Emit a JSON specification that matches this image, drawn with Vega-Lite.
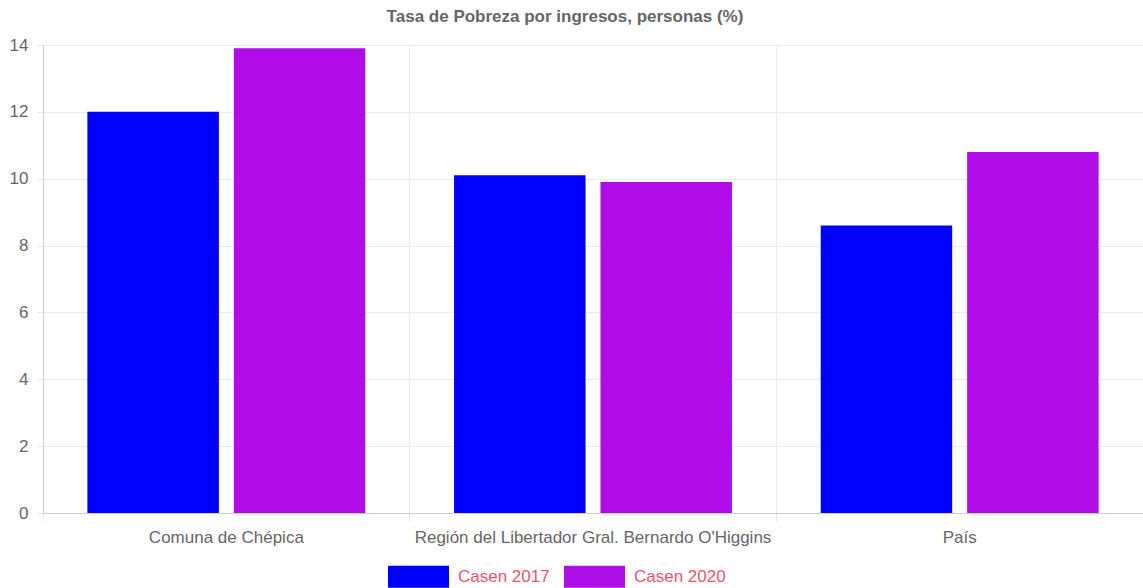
{
  "$schema": "https://vega.github.io/schema/vega-lite/v6.json",
  "autosize": "none",
  "width": 1100,
  "height": 468,
  "padding": {"left": 43, "top": 45, "right": 0, "bottom": 75},
  "background": "white",
  "config": {
    "font": "Liberation Sans",
    "view": {"stroke": null}
  },
  "title": {
    "text": "Tasa de Pobreza por ingresos, personas (%)",
    "anchor": "middle",
    "dx": -28,
    "offset": 10,
    "fontSize": 17,
    "fontWeight": "bold",
    "color": "#666666",
    "font": "Liberation Sans"
  },
  "data": {
    "values": [
      {"territorio": "Comuna de Chépica", "serie": "Casen 2017", "valor": 12.0},
      {"territorio": "Comuna de Chépica", "serie": "Casen 2020", "valor": 13.9},
      {"territorio": "Región del Libertador Gral. Bernardo O'Higgins", "serie": "Casen 2017", "valor": 10.1},
      {"territorio": "Región del Libertador Gral. Bernardo O'Higgins", "serie": "Casen 2020", "valor": 9.9},
      {"territorio": "País", "serie": "Casen 2017", "valor": 8.6},
      {"territorio": "País", "serie": "Casen 2020", "valor": 10.8}
    ]
  },
  "mark": {"type": "bar"},
  "encoding": {
    "x": {
      "field": "territorio",
      "type": "nominal",
      "sort": null,
      "scale": {"paddingInner": 0, "paddingOuter": 0},
      "axis": {
        "title": null,
        "labelAngle": 0,
        "bandPosition": 0,
        "labelLimit": 0,
        "labelColor": "#666666",
        "labelFontSize": 17,
        "labelPadding": 8,
        "tickSize": 8,
        "tickColor": "#e6e6e6",
        "grid": true,
        "gridColor": "#ebebeb",
        "domainColor": "#cccccc"
      }
    },
    "xOffset": {
      "field": "serie",
      "type": "nominal",
      "scale": {"paddingInner": 0.102, "paddingOuter": 0.303}
    },
    "y": {
      "field": "valor",
      "type": "quantitative",
      "scale": {"domain": [0, 14], "nice": false},
      "axis": {
        "title": null,
        "values": [0, 2, 4, 6, 8, 10, 12, 14],
        "labelColor": "#666666",
        "labelFontSize": 17,
        "labelPadding": 9,
        "tickSize": 6,
        "tickColor": "#e6e6e6",
        "gridColor": "#ebebeb",
        "domainColor": "#cccccc"
      }
    },
    "color": {
      "field": "serie",
      "type": "nominal",
      "scale": {"domain": ["Casen 2017", "Casen 2020"], "range": ["#0000ff", "#b00ce8"]},
      "legend": {
        "title": null,
        "orient": "none",
        "direction": "horizontal",
        "legendX": 345,
        "legendY": 501,
        "symbolType": "M-1,-0.36H1V0.36H-1Z",
        "symbolSize": 3721,
        "symbolOpacity": 1,
        "symbolStrokeWidth": 0,
        "labelColor": "#e8546f",
        "labelFontSize": 17,
        "labelOffset": 9,
        "columnPadding": 14
      }
    }
  }
}
